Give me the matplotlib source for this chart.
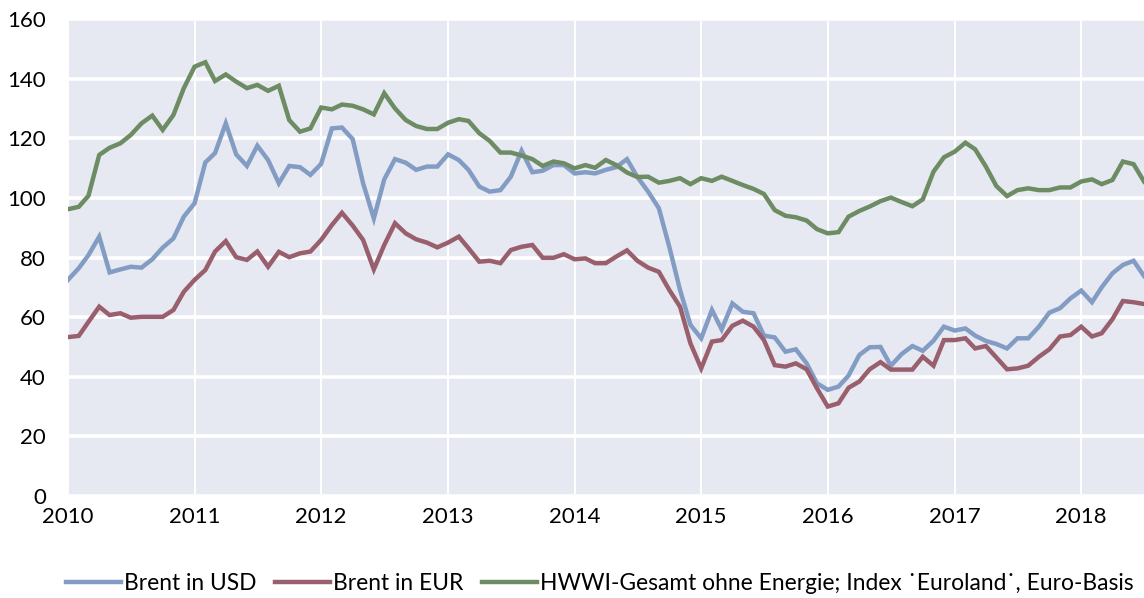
import matplotlib
matplotlib.use("Agg")
import matplotlib.pyplot as plt
import matplotlib.dates as mdates
import pandas as pd

plt.rcParams['font.family'] = ['Lato', 'DejaVu Sans']

months = pd.date_range("2010-01-01", "2018-07-01", freq="MS")

brent_usd = [72.5, 76.4, 80.8, 87.0, 75.0, 76.0, 76.9, 76.6, 79.4, 83.3, 86.4, 93.7,
             98.2, 111.9, 115.0, 125.0, 114.6, 110.7, 117.5, 112.7, 104.9, 110.7, 110.3, 107.7,
             111.4, 123.3, 123.6, 119.7, 104.9, 93.1, 106.2, 113.0, 111.8, 109.4, 110.5, 110.5,
             114.6, 112.7, 109.4, 103.8, 102.1, 102.6, 107.1, 115.8, 108.6, 109.1, 111.0, 111.0,
             108.2, 108.6, 108.2, 109.4, 110.3, 113.0, 107.0, 102.1, 96.5, 83.6, 69.1, 57.4,
             52.9, 62.4, 55.9, 64.6, 61.8, 61.3, 53.8, 53.2, 48.4, 49.2, 44.5, 37.8,
             35.6, 36.7, 40.4, 47.3, 49.9, 50.0, 43.7, 47.6, 50.3, 48.7, 52.1, 56.8,
             55.5, 56.2, 53.8, 52.0, 51.0, 49.5, 52.9, 52.9, 56.8, 61.5, 63.0, 66.3,
             68.9, 65.0, 70.0, 74.7, 77.5, 78.9, 73.8]

brent_eur = [53.3, 53.7, 58.4, 63.5, 60.7, 61.3, 59.8, 60.1, 60.1, 60.1, 62.4, 68.5,
             72.5, 75.8, 82.0, 85.5, 80.1, 79.2, 82.0, 76.9, 81.9, 80.1, 81.4, 82.0,
             85.9, 90.9, 95.0, 90.7, 85.9, 76.0, 84.2, 91.5, 88.1, 86.1, 85.0, 83.4,
             85.0, 87.0, 83.1, 78.6, 78.9, 78.1, 82.5, 83.6, 84.2, 79.9, 79.9, 81.1,
             79.4, 79.7, 78.1, 78.1, 80.3, 82.4, 78.9, 76.6, 75.2, 69.1, 63.5, 51.2,
             42.8, 51.8, 52.3, 57.1, 58.8, 56.8, 52.3, 43.9, 43.4, 44.5, 42.5, 36.1,
             30.0, 31.1, 36.3, 38.4, 42.5, 44.9, 42.4, 42.4, 42.4, 46.7, 43.7, 52.3,
             52.3, 52.9, 49.5, 50.3, 46.5, 42.5, 42.8, 43.7, 46.7, 49.2, 53.5, 54.0,
             56.8, 53.5, 54.6, 59.3, 65.4, 65.0, 64.4]

hwwi = [96.2, 97.0, 100.7, 114.4, 116.8, 118.3, 121.1, 125.0, 127.6, 122.8, 127.8, 136.8,
        144.0, 145.5, 139.2, 141.4, 139.0, 136.8, 137.9, 135.9, 137.6, 126.1, 122.2, 123.3,
        130.3, 129.7, 131.3, 130.9, 129.7, 128.0, 135.1, 130.0, 126.1, 124.1, 123.1, 123.1,
        125.2, 126.4, 125.8, 121.7, 119.1, 115.2, 115.2, 114.2, 113.0, 110.7, 112.2, 111.6,
        109.9, 111.0, 110.1, 112.7, 111.0, 108.5, 107.0, 107.1, 105.1, 105.7, 106.6, 104.6,
        106.6, 105.7, 107.1, 105.7, 104.3, 103.0, 101.3, 95.9, 94.0, 93.5, 92.4, 89.5,
        88.1, 88.5, 93.7, 95.6, 97.1, 98.9, 100.1, 98.6, 97.2, 99.5, 108.8, 113.6,
        115.5, 118.5, 116.3, 110.5, 104.0, 100.6, 102.6, 103.2, 102.6, 102.6, 103.5, 103.5,
        105.5, 106.2, 104.6, 106.0, 112.2, 111.3, 105.5]

labels = ["Brent in USD", "Brent in EUR",
          "HWWI-Gesamt ohne Energie; Index \u02d9Euroland\u02d9, Euro-Basis"]
colors = ["#839CC4", "#9A5F6D", "#6D8C63"]

fig = plt.figure(figsize=(11.44, 5.98), dpi=100)
ax = fig.add_axes([68 / 1144, 1 - 496 / 598, 1 - 68 / 1144, (496 - 19) / 598])
ax.set_facecolor("#E6E9F1")

for series, lab, col in zip([brent_usd, brent_eur, hwwi], labels, colors):
    ax.plot(months, series, color=col, lw=3.2, label=lab, solid_joinstyle="miter")

ax.set_xlim(months[0], months[-1])
ax.set_ylim(0, 160)
ax.set_yticks(range(0, 161, 20))
ax.xaxis.set_major_locator(mdates.YearLocator())
ax.xaxis.set_major_formatter(mdates.DateFormatter("%Y"))

ax.grid(axis="y", color="white", lw=2.6)
ax.grid(axis="x", color="white", lw=1.4)
ax.set_axisbelow(True)
for s in ax.spines.values():
    s.set_visible(False)
ax.tick_params(axis="both", length=0, labelsize=16, colors="black")
ax.tick_params(axis="y", pad=16)
ax.tick_params(axis="x", pad=8)

fig.legend(loc="center", bbox_to_anchor=(600 / 1144, 1 - 583 / 598), ncol=3,
           frameon=False, fontsize=16.4, handlelength=2.4, handletextpad=0.15,
           columnspacing=0.8, borderpad=0)

fig.savefig("out.png", dpi=100)
